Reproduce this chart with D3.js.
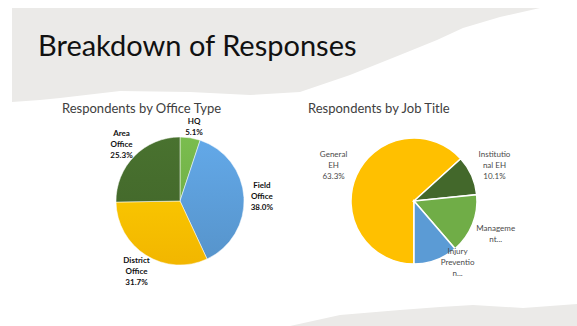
<!DOCTYPE html>
<html>
<head>
<meta charset="utf-8">
<script src="https://cdn.jsdelivr.net/npm/d3@7"></script>
<style>
  html, body { margin: 0; padding: 0; background: #fff; }
  svg { display: block; }
</style>
</head>
<body>
<svg id="slide" width="577" height="326"></svg>
<script>
// ---- data ----
const officeTypes = ["HQ", "Field Office", "District Office", "Area Office"];
const officeShares = [5.1, 38.0, 31.7, 25.3];
const officeLabels = [["HQ", "5.1%"], ["Field", "Office", "38.0%"], ["District", "Office", "31.7%"], ["Area", "Office", "25.3%"]];

const jobTitles = ["General EH", "Institutional EH", "Management", "Injury Prevention"];
const jobShares = [63.3, 10.1, 15.3, 11.3];
const jobLabels = [["General", "EH", "63.3%"], ["Institutio", "nal EH", "10.1%"], ["Manageme", "nt..."], ["Injury", "Preventio", "n..."]];

const officeColors = ["#70ad47", "#5b9bd5", "#ffc000", "#43682b"];
const jobColors = ["#ffc000", "#43682b", "#70ad47", "#5b9bd5"];

// small label nudges (Excel "best fit" moves some labels)
const labelNudge = { "HQ": [1, 6], "Injury Prevention": [13, -22] };

const svg = d3.select("#slide");
const defs = svg.append("defs");

// torn paper bands
svg.append("path")
  .attr("d", "M12,8 L540,8 L500,17 L463,28 L437,40 L400,55 L350,75 L300,92 L250,95 L190,92 L120,91 L60,98 L40,100 L12,102 Z")
  .attr("fill", "#ebeae8");
svg.append("path")
  .attr("d", "M290,326 L340,315 L400,310 L440,307 L473,305 L523,308 L577,304 L577,326 Z")
  .attr("fill", "#ebeae8");

svg.append("text")
  .attr("x", 38).attr("y", 56)
  .attr("font-family", "Lato, 'Open Sans', sans-serif")
  .attr("font-size", 29)
  .attr("fill", "#111")
  .text("Breakdown of Responses");

function drawPie(opts) {
  const g = svg.append("g").attr("transform", `translate(${opts.cx},${opts.cy})`);
  const pie = d3.pie().sort(null).value(d => d.value)
    .startAngle(opts.start).endAngle(opts.start + 2 * Math.PI);
  const arcs = pie(opts.names.map((n, i) => ({ name: n, value: opts.values[i], lines: opts.labels[i] })));
  const arc = d3.arc().innerRadius(0).outerRadius(opts.r);
  const labelArc = d3.arc().innerRadius(opts.lr).outerRadius(opts.lr);
  const color = d3.scaleOrdinal().domain(opts.names).range(opts.colors);

  // subtle top-to-bottom shading like the Office chart style
  const fill = (d, i) => {
    if (!opts.shade) return color(d.data.name);
    const id = opts.id + "g" + i;
    const base = d3.color(color(d.data.name));
    const lg = defs.append("linearGradient").attr("id", id)
      .attr("gradientUnits", "userSpaceOnUse")
      .attr("x1", 0).attr("y1", -opts.r).attr("x2", 0).attr("y2", opts.r);
    lg.append("stop").attr("offset", 0).attr("stop-color", base.brighter(0.25));
    lg.append("stop").attr("offset", 1).attr("stop-color", base.darker(0.15));
    return `url(#${id})`;
  };

  g.selectAll("path.slice").data(arcs).join("path")
    .attr("class", "slice")
    .attr("d", arc)
    .attr("fill", fill)
    .attr("stroke", "#fff")
    .attr("stroke-width", opts.sw);

  const lab = g.selectAll("text.lbl").data(arcs).join("text")
    .attr("class", "lbl")
    .attr("text-anchor", "middle")
    .attr("font-family", "Lato, 'Open Sans', sans-serif")
    .attr("font-size", 8)
    .attr("font-weight", opts.bold ? "bold" : "normal")
    .attr("fill", opts.labelColor)
    .attr("transform", d => {
      const [x, y] = labelArc.centroid(d);
      const [dx, dy] = labelNudge[d.data.name] || [0, 0];
      return `translate(${x + dx},${y + dy})`;
    });
  lab.each(function (d) {
    const n = d.data.lines.length;
    d3.select(this).selectAll("tspan").data(d.data.lines).join("tspan")
      .attr("x", 0)
      .attr("y", (t, i) => (i - (n - 1) / 2) * 11 + 3)
      .text(t => t);
  });

  svg.append("text")
    .attr("x", opts.tx).attr("y", 113)
    .attr("font-family", "Lato, 'Open Sans', sans-serif")
    .attr("font-size", 13)
    .attr("fill", "#404040")
    .text(opts.title);
}

drawPie({
  id: "office", cx: 180, cy: 201, r: 64, lr: 82, start: 0, sw: 0.5, shade: true,
  names: officeTypes, values: officeShares, labels: officeLabels, colors: officeColors,
  bold: true, labelColor: "#111", title: "Respondents by Office Type", tx: 62
});

drawPie({
  id: "job", cx: 414, cy: 201, r: 63, lr: 88, start: Math.PI, sw: 1.5, shade: false,
  names: jobTitles, values: jobShares, labels: jobLabels, colors: jobColors,
  bold: false, labelColor: "#4a4a4a", title: "Respondents by Job Title", tx: 308
});
</script>
</body>
</html>
